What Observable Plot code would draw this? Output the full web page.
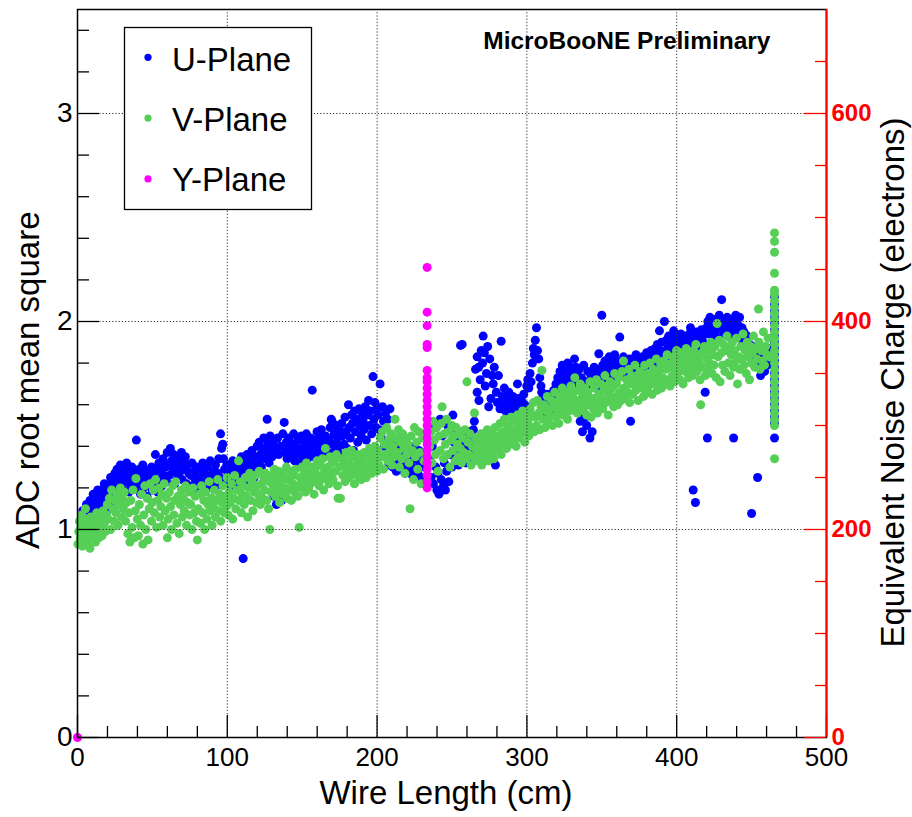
<!DOCTYPE html>
<html><head><meta charset="utf-8">
<script src="https://cdn.jsdelivr.net/npm/d3@7"></script>
<script src="https://cdn.jsdelivr.net/npm/@observablehq/plot@0.6"></script>
<style>body{margin:0;background:#fff;} svg{display:block}</style>
</head><body><div id="chart"></div>
<script>
// ---- Data (wire length in cm, ADC RMS) ----
const uPlane = [
[3.5,1.09],[6,1.12],[7.5,1.08],[8.3,1.14],[9.7,1.11],
[10.5,1.17],[11.2,1.12],[12,1.16],[12.8,1.08],[13.5,1.19],[14.2,1.14],[14.9,1.17],
[15.6,1.10],[16.4,1.19],[17.1,1.13],[17.9,1.22],[18.6,1.16],[19.4,1.09],[19.9,1.18],
[20.6,1.21],[21.3,1.14],[22.1,1.25],[22.8,1.18],[23.6,1.23],[24.3,1.12],[24.9,1.27],
[25.6,1.20],[26.4,1.29],[27.1,1.24],[27.9,1.17],[28.6,1.31],[29.4,1.22],[29.9,1.26],
[30.6,1.19],[31.3,1.28],[32.1,1.23],[32.8,1.32],[33.6,1.25],[34.3,1.18],[34.9,1.29],
[35.6,1.21],[36.4,1.30],[37.1,1.24],[37.9,1.27],[38.6,1.20],[39.3,1.43],[39.9,1.26],
[40.6,1.22],[41.3,1.29],[42.1,1.17],[42.8,1.25],[43.6,1.31],[44.3,1.20],[44.9,1.27],
[45.6,1.23],[46.4,1.16],[47.1,1.28],[47.9,1.21],[48.6,1.25],[49.4,1.30],[49.9,1.19],
[50.6,1.26],[51.3,1.22],[52,1.36],[52.8,1.29],[53.6,1.18],[54.3,1.32],[54.9,1.24],
[55.6,1.28],[56.4,1.21],[57.1,1.34],[57.9,1.26],[58.6,1.30],[59.4,1.23],[59.9,1.37],
[60.6,1.31],[61.3,1.26],[62,1.39],[62.8,1.33],[63.6,1.28],[64.3,1.36],[64.9,1.22],
[65.6,1.30],[66.4,1.35],[67.1,1.25],[67.9,1.32],[68.6,1.28],[69.4,1.37],[69.9,1.24],
[70.6,1.33],[71.3,1.29],[72,1.35],[72.8,1.22],[73.6,1.31],[74.3,1.27],[74.9,1.19],
[75.6,1.26],[76.4,1.32],[77.1,1.21],[77.9,1.28],[78.6,1.24],[79.4,1.30],[79.9,1.18],
[80.6,1.25],[81.3,1.21],[82.1,1.29],[82.8,1.23],[83.6,1.32],[84.3,1.19],[84.9,1.27],
[85.6,1.22],[86.4,1.30],[87.1,1.25],[87.9,1.20],[88.6,1.33],[89.4,1.26],[89.9,1.23],
[90.6,1.28],[91.3,1.24],[92.1,1.31],[92.8,1.21],[93.6,1.27],[94.3,1.34],[94.9,1.25],
[95.5,1.46],[96.2,1.39],[97,1.41],[97.5,1.34],[98.2,1.29],[99,1.24],[99.7,1.31],
[100.5,1.27],[101.3,1.22],[102,1.30],[102.8,1.25],[103.6,1.33],[104.3,1.20],[104.9,1.28],
[105.6,1.24],[106.4,1.31],[107.1,1.26],[107.9,1.21],[108.6,1.29],[109.4,1.35],[110.6,0.86],
[110.9,1.27],[111.6,1.32],[112.4,1.24],[113.1,1.36],[113.9,1.29],[114.6,1.22],[115,1.33],
[115.7,1.27],[116.4,1.38],[117.1,1.31],[117.9,1.25],[118.6,1.35],[119.4,1.29],[119.9,1.40],
[120.6,1.33],[121.3,1.42],[122.1,1.36],[122.8,1.30],[123.6,1.39],[124.3,1.44],[124.9,1.34],
[125.6,1.37],[126.6,1.53],[127.1,1.41],[127.9,1.32],[128.6,1.45],[129.4,1.38],[129.9,1.35],
[130.6,1.42],[131.3,1.16],[132.1,1.39],[132.8,1.12],[133.6,1.44],[134.3,1.36],[134.9,1.19],
[135.6,1.40],[136.4,1.14],[137.1,1.46],[138,1.515],[138.6,1.37],[139.4,1.42],[139.9,1.34],
[140.6,1.39],[141.3,1.44],[142.1,1.35],[142.8,1.41],[143.6,1.37],[144.3,1.46],[144.9,1.33],
[145.6,1.40],[146.4,1.36],[147.1,1.43],[147.9,1.38],[148.6,1.32],[149.4,1.45],[149.9,1.39],
[150.6,1.35],[151.3,1.42],[152.1,1.38],[152.8,1.46],[153.6,1.34],[154.3,1.41],[154.9,1.37],
[155.6,1.44],[156.7,1.67],[157.1,1.39],[157.9,1.35],[158.6,1.43],[159.4,1.38],[159.9,1.47],
[160.6,1.40],[161.3,1.36],[162.1,1.44],[162.8,1.48],[163.6,1.38],[164.3,1.42],[164.9,1.35],
[165.6,1.45],[166.4,1.40],[167.1,1.37],[167.9,1.43],[168.6,1.49],[169.4,1.53],[170,1.52],
[170.6,1.41],[171.3,1.46],[172.1,1.38],[172.8,1.50],[173.6,1.44],[174.3,1.40],[174.9,1.48],
[175.6,1.36],[176.4,1.51],[177.1,1.45],[177.9,1.41],[178.6,1.54],[179.4,1.47],[179.9,1.39],
[180.9,1.60],[181.3,1.49],[182.1,1.44],[182.8,1.55],[183.6,1.51],[184.3,1.38],[184.9,1.57],
[185.6,1.47],[186.4,1.53],[187.1,1.42],[187.9,1.58],[188.6,1.50],[189.4,1.45],[189.9,1.56],
[190.6,1.52],[191.3,1.48],[192.1,1.59],[192.8,1.43],[193.6,1.55],[194.3,1.62],[194.9,1.50],
[195.6,1.57],[196.4,1.46],[197.3,1.735],[197.9,1.53],[198.6,1.61],[199.4,1.49],[199.9,1.58],
[200.6,1.55],[201.3,1.48],[202,1.70],[202.8,1.44],[203.6,1.59],[204.3,1.52],[204.9,1.40],
[205.6,1.56],[206.4,1.36],[207.1,1.53],[207.9,1.31],[208.6,1.58],[209.4,1.45],[209.9,1.34],
[210.6,1.30],[211.3,1.41],[212.1,1.35],[212.8,1.28],[213.6,1.38],[214.3,1.32],[214.9,1.44],
[215.6,1.29],[216.4,1.36],[217.1,1.31],[217.9,1.40],[218.6,1.27],[219.4,1.34],[219.9,1.30],
[220.6,1.33],[221.3,1.28],[222.1,1.37],[222.8,1.31],[223.6,1.26],[224.3,1.35],[224.9,1.40],
[225.6,1.29],[226.4,1.34],[227.1,1.27],[227.9,1.38],[228.6,1.32],[229.4,1.25],[230.5,1.36],[231.5,1.30],
[235.2,1.33],[236,1.25],[236.8,1.40],[237.6,1.22],[238.4,1.49],[239.2,1.30],[239.9,1.19],
[240.6,1.27],[241.3,1.17],[242.1,1.53],[242.8,1.24],[243.6,1.45],[244.3,1.21],[244.9,1.32],
[245.6,1.19],[246.4,1.28],[247.1,1.50],[247.9,1.23],[248.6,1.36],[249.4,1.47],[249.9,1.30],
[250.6,1.55],[251.3,1.42],[252.1,1.34],[252.8,1.48],[253.6,1.38],[254.3,1.31],[254.9,1.44],
[255.7,1.885],[256.8,1.89],[257.1,1.40],[257.9,1.35],[258.6,1.46],[259.4,1.32],[259.9,1.42],
[260.6,1.38],[261.3,1.47],[262.1,1.33],[262.8,1.43],[263.6,1.36],[264.3,1.48],[264.9,1.52],
[265.7,1.77],[266.8,1.83],[267.8,1.78],[266.8,1.66],[268,1.62],[268.8,1.72],[269.5,1.86],
[270.4,1.80],[270.8,1.93],[271.6,1.85],[272.2,1.69],[273,1.75],[273.8,1.88],[274.5,1.59],
[275.2,1.82],[276,1.63],[276.8,1.74],[277.5,1.70],[278.2,1.78],[279,1.31],[279.6,1.66],
[280.3,1.61],[281,1.74],[282,1.58],[282.8,1.905],[283.6,1.64],[284.3,1.60],[284.9,1.68],
[285.6,1.57],[286.4,1.63],[287.1,1.59],[287.9,1.66],[288.6,1.56],[289.4,1.62],[289.9,1.58],
[290.6,1.64],[291.3,1.57],[292.1,1.61],[292.8,1.55],[293.7,1.70],[294.3,1.63],[294.9,1.59],
[295.6,1.56],[296.4,1.62],[297.1,1.58],[297.9,1.65],[298.6,1.60],[299.4,1.55],[299.9,1.69],
[300.6,1.72],[301.3,1.68],[302.1,1.75],[302.8,1.71],[303.7,1.80],[304.3,1.87],[304.9,1.84],
[305.6,1.91],[306.4,1.97],[307.1,1.86],[307.9,1.82],[308.6,1.73],[309.4,1.69],[309.9,1.66],
[310.6,1.63],[311.3,1.58],[312.1,1.61],[312.8,1.55],[313.6,1.65],[314.3,1.59],[314.9,1.62],
[315.6,1.57],[316.4,1.64],[317.1,1.60],[317.9,1.67],[318.6,1.62],[319.4,1.70],[319.9,1.66],
[320.6,1.73],[321.3,1.68],[322.1,1.76],[322.8,1.71],[323.6,1.79],[324.3,1.74],[324.9,1.69],
[325.6,1.77],[326.4,1.72],[327.1,1.80],[327.9,1.75],[328.6,1.70],[329.4,1.78],[329.9,1.73],
[330.6,1.76],[331.8,1.82],[332.1,1.71],[332.8,1.78],[333.6,1.74],[334.3,1.69],[334.9,1.77],
[335.6,1.52],[336.4,1.73],[337.1,1.47],[337.9,1.79],[338.6,1.54],[339.4,1.71],[339.9,1.50],
[340.6,1.76],[341.3,1.68],[342.1,1.44],[342.8,1.74],[343.6,1.47],[344.3,1.72],[344.9,1.78],
[345.6,1.70],[346.4,1.75],[347.1,1.68],[348,1.845],[348.6,1.73],[349.4,1.77],[350,2.03],
[350.6,1.79],[351.3,1.73],[352.1,1.81],[352.8,1.76],[353.6,1.70],[354.3,1.78],[354.9,1.83],
[355.6,1.74],[356.4,1.80],[357.1,1.72],[357.9,1.77],[358.6,1.84],[359.4,1.75],[359.9,1.81],
[360.6,1.76],[361.3,1.80],[362,1.925],[362.8,1.78],[363.6,1.74],[364.5,1.83],[364.9,1.77],
[365.6,1.81],[366.4,1.75],[367.1,1.79],[367.9,1.73],[368.6,1.82],[369.2,1.52],[369.9,1.78],
[370.6,1.81],[371.3,1.75],[372.1,1.79],[372.8,1.84],[373.6,1.76],[374.3,1.80],[374.9,1.74],
[375.6,1.82],[376.4,1.77],[377.1,1.83],[377.9,1.75],[378.6,1.80],[379.4,1.78],[379.9,1.85],
[380.6,1.79],[381.3,1.83],[382.1,1.77],[382.8,1.86],[383.6,1.81],[384.3,1.84],[384.9,1.78],
[385.6,1.87],[386.4,1.82],[387.1,1.89],[387.9,1.84],[388.5,1.955],[389.2,1.86],[389.9,1.90],
[390.6,1.85],[391.8,2.00],[392.5,1.85],[393.1,1.91],[393.9,1.87],[394.6,1.93],[395,1.83],
[395.6,1.89],[396.4,1.86],[397.1,1.92],[398,1.955],[398.6,1.88],[399.4,1.84],[399.9,1.90],
[400.6,1.86],[401.3,1.92],[402.1,1.88],[402.8,1.94],[403.6,1.90],[404.3,1.87],[404.9,1.93],
[405.6,1.89],[406.4,1.91],[407.1,1.875],[407.9,1.86],[408.6,1.94],[409.2,1.97],[409.9,1.90],
[411,1.19],[412.5,1.13],[411.5,1.92],[412.4,1.88],[413.2,1.95],[414,1.90],[414.8,1.93],
[415.6,1.87],[416.4,1.96],[417.1,1.91],[417.9,1.94],[418.6,1.89],[419,1.66],[419.9,1.97],
[420.5,1.44],[420.8,2.00],[421.5,1.94],[422.2,2.02],[423,1.97],[423.8,1.93],[424.5,1.99],
[425.3,1.95],[426,2.01],[426.8,1.96],[427.6,1.92],[428.4,2.03],[429.2,1.98],[430,2.105],
[430.7,1.99],[431.4,1.94],[432.2,2.00],[432.9,1.96],[433.7,2.02],[434.4,1.93],[434.9,1.98],
[435.6,1.95],[436.4,2.01],[437.1,1.91],[438,1.44],[438.6,1.97],[439.4,2.03],[439.9,1.94],
[440.6,1.99],[441.3,1.95],[442,2.02],[442.8,1.92],[443.6,1.97],[444.3,1.90],[444.9,1.95],
[445.6,1.91],[446.4,1.87],[447.1,1.93],[447.9,1.85],[448.6,1.89],[449.4,1.83],[450,1.077],
[450.6,1.88],[451.3,1.82],[452.1,1.86],[452.8,1.79],[453.6,1.84],[454,1.25],[454.9,1.81],
[455.6,1.78],[456,1.74],[456.9,1.85],[457.8,1.80],[458.7,1.76],[459.6,1.83],[460.5,1.79],[461.4,1.87],
[465.3,1.44],[465.3,1.51],[465.3,1.54],[465.3,1.57],[465.3,1.60],[465.3,1.63],[465.3,1.66],[465.3,1.69],
[465.3,1.72],[465.3,1.75],[465.3,1.78],[465.3,1.81],[465.3,1.84],[465.3,1.87],[465.3,1.90],[465.3,1.93],
[465.3,1.96],[465.3,1.99],[465.3,2.02],[465.3,2.05],[465.3,2.08],[465.3,2.12]
];

const vPlane = [
[0.3,0.93],[0.8,0.99],[1.3,1.04],[1.8,0.96],[2.3,1.01],[2.8,1.07],[3.3,0.92],[3.8,0.98],[4.3,1.03],[4.8,0.95],
[5.3,1.10],[5.8,1.00],[6.3,0.94],[6.8,1.05],[7.3,0.97],[7.8,1.02],[8.3,0.91],[8.8,1.06],[9.3,0.96],[9.8,1.01],
[10.5,0.98],[11.2,1.04],[12,0.94],[12.8,1.08],[13.5,1.00],[14.2,0.96],[14.9,1.05],
[15.6,1.02],[16.4,0.97],[17.1,1.09],[17.9,1.03],[18.6,0.99],[19.4,1.07],[19.9,1.12],
[20.6,1.05],[21.3,1.15],[22.1,1.00],[22.8,1.19],[23.6,1.10],[24.3,1.04],[24.9,1.14],
[25.6,1.08],[26.4,1.17],[27.1,1.02],[27.9,1.12],[28.6,1.20],[29.4,1.06],[29.9,1.15],
[30.6,1.10],[31.3,1.18],[32.1,1.04],[32.8,1.13],[33.6,0.98],[34.3,1.08],[35,0.94],
[35.6,1.14],[36.4,1.01],[37.1,1.19],[37.9,0.96],[38.6,1.09],[39,1.245],[39.9,1.05],
[40.6,0.97],[41.3,1.12],[42.1,1.02],[42.8,1.17],[43.6,0.93],[44.3,1.07],[44.9,1.21],
[45.6,1.00],[46.4,1.15],[47.1,0.95],[47.9,1.10],[48.6,1.22],[49.4,1.04],[49.9,1.13],
[50.6,1.19],[51.3,1.08],[52.1,1.24],[52.8,1.01],[53.6,1.14],[54.3,1.20],[54.9,1.06],
[55.6,1.11],[56.4,1.17],[57.1,1.02],[57.9,1.22],[58.6,1.09],[59.4,1.15],[60,0.96],
[60.6,1.05],[61.3,1.18],[62.1,1.11],[62.8,1.00],[63.6,1.21],[64.3,1.07],[64.9,1.14],
[65.6,1.23],[66.4,1.03],[67.1,1.16],[67.9,0.98],[68.6,1.12],[69.4,1.19],[69.9,1.06],
[70.6,1.15],[71.3,1.09],[72.1,1.21],[72.8,1.02],[73.6,1.13],[74.3,1.18],[74.9,1.07],
[75.6,1.12],[76.4,1.00],[77.1,1.20],[77.9,1.08],[78.6,1.16],[79.4,1.04],[80,0.95],
[80.6,1.10],[81.3,1.17],[82.1,1.03],[82.8,1.21],[83.6,1.08],[84.3,1.14],[84.9,1.00],
[85.6,1.18],[86.4,1.05],[87.1,1.12],[87.9,1.23],[88.6,1.09],[89.4,1.15],[89.9,1.02],
[90.6,1.11],[91.3,1.19],[92.1,1.06],[92.8,1.14],[93.6,1.24],[94.3,1.09],[94.9,1.17],
[95.6,1.04],[96.4,1.13],[97.1,1.21],[97.9,1.08],[98.6,1.16],[99.4,1.11],[99.9,1.25],
[100.6,1.07],[101.3,1.18],[102.1,1.13],[102.8,1.22],[103.6,1.05],[104.3,1.15],[104.9,1.26],
[105.6,1.10],[106.4,1.19],[107.5,1.33],[107.9,1.14],[108.6,1.23],[109.4,1.08],[109.9,1.17],
[110.6,1.21],[111.3,1.12],[112.1,1.25],[112.8,1.16],[113.6,1.06],[114.3,1.20],[114.9,1.27],
[115.6,1.14],[116.4,1.23],[117.1,1.09],[117.9,1.18],[118.6,1.26],[119.4,1.13],[119.9,1.21],
[120.6,1.17],[121.3,1.28],[122.1,1.12],[122.8,1.22],[123.6,1.15],[124.3,1.25],[124.9,1.19],
[125.6,1.27],[126.4,1.14],[127.5,1.10],[127.9,1.23],[128.4,1.00],[129.1,1.18],[129.9,1.26],
[130.6,1.21],[131.3,1.29],[132.1,1.16],[132.8,1.24],[133.6,1.19],[134.3,1.28],[134.9,1.13],
[135.6,1.22],[136.4,1.27],[137.1,1.17],[137.9,1.25],[138.6,1.20],[139.4,1.30],[139.9,1.15],
[140.6,1.24],[141.3,1.19],[142.1,1.28],[142.8,1.14],[143.6,1.22],[144.3,1.26],[144.9,1.18],
[145.6,1.29],[146.4,1.21],[147.1,1.16],[148,1.01],[148.6,1.25],[149.4,1.20],[149.9,1.30],
[150.6,1.23],[151.3,1.27],[152.1,1.18],[152.8,1.32],[153.6,1.24],[154.3,1.20],[154.9,1.28],
[155.6,1.22],[156.4,1.30],[157.1,1.25],[157.9,1.17],[158.6,1.29],[159.4,1.23],[159.9,1.33],
[160.6,1.26],[161.3,1.21],[162.1,1.31],[162.8,1.24],[163.6,1.34],[164.3,1.19],[164.9,1.28],
[165.5,1.39],[166.4,1.25],[167.1,1.30],[167.9,1.22],[168.6,1.35],[169.4,1.27],[169.9,1.32],
[170.6,1.24],[171.3,1.33],[172.1,1.28],[172.8,1.36],[173.6,1.21],[174,1.15],[174.9,1.30],
[175.5,1.15],[176.4,1.34],[177.1,1.26],[177.9,1.31],[178.6,1.23],[179.4,1.37],[179.9,1.29],
[180.6,1.33],[181.3,1.25],[182.1,1.30],[182.8,1.38],[183.6,1.27],[184.3,1.35],[184.9,1.22],
[185.6,1.31],[186.4,1.26],[187.1,1.36],[187.9,1.29],[188.6,1.34],[189.4,1.24],[189.9,1.32],
[190.6,1.28],[191.3,1.37],[192.1,1.30],[192.8,1.25],[193.6,1.35],[194.3,1.29],[194.9,1.39],
[195.6,1.32],[196.4,1.27],[197.1,1.36],[197.9,1.30],[198.6,1.40],[199.4,1.33],[199.9,1.28],
[200.6,1.38],[201.3,1.31],[202.1,1.44],[202.8,1.35],[203.6,1.47],[204.3,1.29],[204.9,1.41],
[205.6,1.36],[206.4,1.49],[207.1,1.33],[207.9,1.43],[208.6,1.38],[209.4,1.46],[209.9,1.31],
[210.6,1.40],[211.3,1.35],[212,1.53],[212.8,1.44],[213.6,1.37],[214.3,1.48],[214.9,1.30],
[215.6,1.42],[216.4,1.34],[217.1,1.46],[217.9,1.39],[218.6,1.27],[219.4,1.43],[219.9,1.36],
[220.6,1.41],[221.3,1.32],[222,1.10],[222.8,1.45],[223.6,1.38],[224.3,1.24],[224.9,1.49],
[225.6,1.35],[226.4,1.42],[227.1,1.29],[227.9,1.47],[228.6,1.37],[229.4,1.22],[230.3,1.44],[231.3,1.33],
[235,1.40],[235.8,1.47],[236.6,1.32],[237.4,1.52],[238.2,1.43],[239,1.36],[239.8,1.49],
[240.6,1.28],[241.3,1.45],[242.1,1.38],[242.8,1.51],[243.4,1.59],[244.3,1.34],[244.9,1.46],
[245.6,1.41],[246.4,1.53],[247.1,1.36],[247.9,1.47],[248.6,1.30],[249.4,1.43],[249.9,1.50],
[250.6,1.38],[251.3,1.45],[252.1,1.33],[252.8,1.49],[253.6,1.41],[254.3,1.35],[254.9,1.46],
[255.6,1.39],[256.4,1.32],[257.1,1.44],[257.9,1.37],[258.6,1.48],[259.4,1.34],[260,1.71],
[260.6,1.42],[261.3,1.36],[262.1,1.46],[262.8,1.31],[263.6,1.40],[264.3,1.35],[265,1.56],
[265.6,1.44],[266.4,1.38],[267.1,1.33],[267.9,1.42],[268.6,1.36],[269.4,1.46],[269.9,1.31],
[270.6,1.40],[271.3,1.35],[272.1,1.44],[272.8,1.38],[273.6,1.48],[274.3,1.33],[274.9,1.42],
[275.6,1.37],[276.4,1.46],[277.1,1.40],[277.9,1.34],[278.6,1.49],[279.4,1.43],[279.9,1.38],
[280.6,1.45],[281.3,1.40],[282.1,1.51],[282.8,1.36],[283.6,1.47],[284.3,1.42],[284.9,1.53],
[285.6,1.44],[286.4,1.39],[287.1,1.50],[287.9,1.46],[288.6,1.41],[289.4,1.54],[289.9,1.48],
[290.6,1.43],[291.3,1.52],[292.1,1.47],[292.8,1.40],[293.6,1.55],[294.3,1.49],[294.9,1.44],
[295.6,1.53],[296.4,1.46],[297.1,1.57],[297.9,1.50],[298.6,1.42],[299.4,1.55],[299.9,1.48],
[300.6,1.52],[301.3,1.45],[302.1,1.58],[302.8,1.49],[303.6,1.55],[304.3,1.61],[304.9,1.47],
[305.6,1.54],[306.4,1.50],[307.1,1.62],[307.9,1.56],[308.6,1.48],[309.4,1.59],[310,1.765],
[310.6,1.53],[311.3,1.60],[312.1,1.49],[312.8,1.57],[313.6,1.64],[314.3,1.52],[314.9,1.58],
[315.6,1.55],[316.4,1.62],[317.1,1.50],[317.9,1.59],[318.6,1.66],[319.4,1.54],[319.9,1.61],
[320.6,1.57],[321.3,1.51],[322.1,1.64],[322.8,1.58],[323.6,1.68],[324.3,1.55],[324.9,1.62],
[325.6,1.59],[326.4,1.66],[327.1,1.53],[327.9,1.63],[328.6,1.57],[329.4,1.69],[329.9,1.60],
[330.6,1.65],[331.3,1.58],[332,1.73],[332.8,1.62],[333.6,1.56],[334.3,1.67],[334.9,1.61],
[335.6,1.70],[336.4,1.59],[337.1,1.64],[337.9,1.57],[338.6,1.68],[339.4,1.62],[339.9,1.55],
[340.6,1.66],[341.3,1.60],[342.1,1.71],[342.8,1.54],[343.6,1.63],[344.3,1.58],[344.9,1.68],
[345.6,1.61],[346.4,1.72],[347.1,1.56],[347.9,1.65],[348.6,1.60],[349.4,1.70],[349.9,1.63],
[350.6,1.58],[351.3,1.67],[352.1,1.74],[352.8,1.61],[353.6,1.69],[354.3,1.55],[354.9,1.65],
[355.6,1.71],[356.4,1.62],[357.1,1.68],[357.9,1.59],[358.6,1.75],[359.4,1.64],[359.9,1.70],
[360.6,1.60],[361.3,1.73],[362.1,1.66],[362.8,1.62],[363.6,1.76],[364.5,1.81],[364.9,1.68],
[365.6,1.63],[366.4,1.72],[367.1,1.66],[367.9,1.77],[368.6,1.61],[369.4,1.70],[369.9,1.74],
[370.6,1.65],[371.3,1.71],[372.1,1.79],[372.8,1.67],[373.6,1.74],[374.3,1.62],[374.9,1.70],
[375.6,1.76],[376.4,1.68],[377.1,1.73],[377.9,1.64],[378.6,1.79],[379.4,1.71],[379.9,1.66],
[380.6,1.75],[381.3,1.69],[382.1,1.80],[382.8,1.72],[383.6,1.65],[384.3,1.77],[384.9,1.70],
[385.6,1.74],[386.4,1.82],[387.1,1.67],[387.9,1.76],[388.6,1.71],[389.4,1.79],[389.9,1.68],
[390.6,1.73],[391.3,1.81],[392.1,1.70],[392.8,1.77],[393.6,1.84],[394.3,1.72],[394.9,1.78],
[395.6,1.69],[396.4,1.80],[397.1,1.74],[397.9,1.83],[398.6,1.71],[399.4,1.77],[399.9,1.86],
[400.6,1.75],[401.3,1.81],[402.1,1.72],[402.8,1.85],[403.6,1.78],[404.3,1.70],[404.9,1.82],
[405.6,1.76],[406.4,1.87],[407.1,1.79],[407.9,1.73],[408.6,1.84],[409.4,1.77],[409.9,1.81],
[410.6,1.74],[411.3,1.86],[412.1,1.79],[412.8,1.89],[413.6,1.76],[414.3,1.83],[414.9,1.80],
[415.6,1.72],[416,1.60],[416.9,1.85],[417.6,1.78],[418.4,1.88],[419.1,1.74],[419.9,1.82],
[420.6,1.77],[421.3,1.86],[422.1,1.80],[422.8,1.90],[423.6,1.75],[424.3,1.84],[424.9,1.79],
[425.6,1.88],[426.4,1.73],[427,1.99],[427.6,1.83],[428.4,1.91],[429,1.71],[429.9,1.85],
[430.6,1.79],[431.3,1.89],[432.1,1.76],[432.8,1.86],[433.6,1.93],[434.3,1.80],[434.9,1.87],
[435.6,1.74],[436.4,1.84],[437.1,1.90],[437.9,1.78],[438.6,1.86],[439.4,1.81],[439.9,1.92],
[440.6,1.70],[441.3,1.83],[442.1,1.77],[442.8,1.88],[443.6,1.82],[444.3,1.94],[444.9,1.79],
[445.6,1.86],[446.4,1.75],[447.1,1.90],[447.9,1.83],[448.6,1.72],[449.4,1.88],[449.9,1.80],
[450.6,1.85],[451.3,1.93],[452.1,1.78],[452.8,1.87],[453.6,1.82],[454.6,2.06],[454.9,1.90],
[455.6,1.77],[456.4,1.86],[457.1,1.81],[457.9,1.95],[458.6,1.79],[459.4,1.88],[460.2,1.84],[461,1.92],[461.8,1.83],
[465.3,1.34],[465.3,1.50],[465.3,1.53],[465.3,1.56],[465.3,1.59],[465.3,1.62],[465.3,1.65],[465.3,1.68],
[465.3,1.71],[465.3,1.74],[465.3,1.77],[465.3,1.80],[465.3,1.83],[465.3,1.86],[465.3,1.89],[465.3,1.92],
[465.3,1.95],[465.3,1.98],[465.3,2.01],[465.3,2.04],[465.3,2.07],[465.3,2.10],[465.3,2.13],[465.3,2.15],
[465.3,2.232],[465.3,2.333],[465.3,2.385],[465.3,2.426]
];

const yPlane = [
[0,0],
[233.4,1.20],[233.4,1.23],[233.4,1.26],[233.4,1.29],[233.4,1.32],[233.4,1.35],[233.4,1.38],[233.4,1.41],
[233.4,1.44],[233.4,1.47],[233.4,1.50],[233.4,1.53],[233.4,1.56],[233.4,1.59],[233.4,1.62],[233.4,1.65],
[233.4,1.68],[233.4,1.71],[233.4,1.73],[233.4,1.765],[233.4,1.875],[233.4,1.89],[233.4,1.98],[233.4,2.045],[233.4,2.26]
];

const seriesNames = ["U-Plane", "V-Plane", "Y-Plane"];
const seriesColors = ["#0000ff", "#55cf55", "#ff00ff"];

const xMajor = [0, 100, 200, 300, 400, 500];
const xMinor = [20,40,60,80,120,140,160,180,220,240,260,280,320,340,360,380,420,440,460,480];
const yMajor = [0, 1, 2, 3];
const yMinor = [0.2,0.4,0.6,0.8,1.2,1.4,1.6,1.8,2.2,2.4,2.6,2.8,3.2,3.4];
const eMajor = [0, 200, 400, 600];
const eMinor = [50,100,150,250,300,350,450,500,550,650];
const electronsPerADC = 200;

const FW = 749, FH = 728; // frame size in px (for tick insets)
const font = "'Liberation Sans', Arial, Helvetica, sans-serif";
const R = 4.5;

const chart = Plot.plot({
  width: 912, height: 817,
  marginLeft: 77, marginRight: 86, marginTop: 9, marginBottom: 80,
  x: {domain: [0, 500], axis: null},
  y: {domain: [0, 3.5], axis: null},
  style: {fontFamily: font, background: "white", color: "black"},
  marks: [
    Plot.dot(uPlane, {x: d => d[0], y: d => d[1], r: R, fill: seriesColors[0]}),
    Plot.dot(vPlane, {x: d => d[0], y: d => d[1], r: R, fill: seriesColors[1]}),
    Plot.dot(yPlane, {x: d => d[0], y: d => d[1], r: R, fill: seriesColors[2]}),
    Plot.ruleX(xMajor.slice(1, -1), {x: d => d, stroke: "#333", strokeDasharray: "1.2,2", strokeWidth: 1}),
    Plot.ruleY(yMajor.slice(1), {y: d => d, stroke: "#333", strokeDasharray: "1.2,2", strokeWidth: 1}),
    Plot.frame({stroke: "black", strokeWidth: 1.5}),
    // bottom ticks (inward)
    Plot.tickX(xMajor, {x: d => d, insetTop: FH - 22, stroke: "black", strokeWidth: 1.3}),
    Plot.tickX(xMinor, {x: d => d, insetTop: FH - 11, stroke: "black", strokeWidth: 1.3}),
    // left ticks
    Plot.tickY(yMajor, {y: d => d, insetRight: FW - 22, stroke: "black", strokeWidth: 1.3}),
    Plot.tickY(yMinor, {y: d => d, insetRight: FW - 12, stroke: "black", strokeWidth: 1.3}),
    // right red axis
    Plot.ruleX([500], {x: d => d, stroke: "#ff0000", strokeWidth: 2}),
    Plot.tickY(eMajor, {y: d => d / electronsPerADC, insetLeft: FW - 22, stroke: "#ff0000", strokeWidth: 1.3}),
    Plot.tickY(eMinor, {y: d => d / electronsPerADC, insetLeft: FW - 11, stroke: "#ff0000", strokeWidth: 1.3}),
    // tick labels
    Plot.text(xMajor, {x: d => d, text: d => String(d), frameAnchor: "bottom", lineAnchor: "bottom", dy: 28, fontSize: 26, fill: "black"}),
    Plot.text(yMajor, {y: d => d, text: d => String(d), frameAnchor: "left", textAnchor: "end", lineAnchor: "middle", dx: -5, fontSize: 28, fill: "black"}),
    Plot.text(eMajor, {y: d => d / electronsPerADC, text: d => String(d), frameAnchor: "right", textAnchor: "start", lineAnchor: "middle", dx: 5, fontSize: 24, fontWeight: "bold", fill: "#ff0000"}),
    // axis titles
    Plot.text(["Wire Length (cm)"], {text: d => d, frameAnchor: "bottom-right", textAnchor: "end", lineAnchor: "bottom", dx: -254, dy: 66, fontSize: 33, fill: "black"}),
    Plot.text(["ADC root mean square"], {text: d => d, frameAnchor: "top-left", rotate: -90, textAnchor: "end", lineAnchor: "bottom", dx: -39, dy: 202, fontSize: 33, fill: "black"}),
    Plot.text(["Equivalent Noise Charge (electrons)"], {text: d => d, frameAnchor: "top-right", rotate: -90, textAnchor: "end", lineAnchor: "bottom", dx: 77, dy: 108, fontSize: 33, fill: "black"}),
    Plot.text(["MicroBooNE Preliminary"], {text: d => d, frameAnchor: "top-right", textAnchor: "end", lineAnchor: "bottom", dx: -56, dy: 39, fontSize: 24.5, fontWeight: "bold", fill: "black"})
  ]
});

document.getElementById("chart").appendChild(chart);

// legend box (layout only)
const svg = d3.select(chart);
const lg = svg.append("g").attr("font-family", font).attr("text-anchor", "start");
lg.append("rect").attr("x", 124.5).attr("y", 27.5).attr("width", 187).attr("height", 182)
  .attr("fill", "white").attr("stroke", "black").attr("stroke-width", 1.3);
seriesNames.forEach((name, i) => {
  lg.append("circle").attr("cx", 148).attr("cy", 57.3 + i * 60.8).attr("r", 3.6).attr("fill", seriesColors[i]);
  lg.append("text").attr("x", 172).attr("y", 71 + i * 60).attr("font-size", 33)
    .attr("text-anchor", "start").attr("fill", "black").text(name);
});
</script>
</body></html>
